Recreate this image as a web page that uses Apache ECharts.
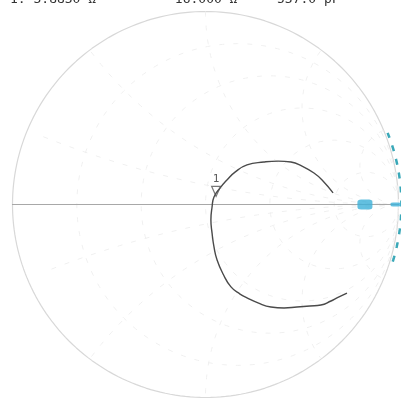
<!DOCTYPE html>
<html><head><meta charset="utf-8">
<script src="https://cdn.jsdelivr.net/npm/echarts@6/dist/echarts.min.js"></script>
<style>html,body{margin:0;padding:0;background:#fff}#c{width:409px;height:405px}</style>
</head><body><div id="c"></div>
<script>
// Reflection coefficient (Gamma) trace: [re, im]
var traceRe = [0.661,0.604,0.562,0.500,0.443,0.376,0.303,0.215,0.153,0.111,0.075,0.044,0.034,0.028,0.034,0.044,0.060,0.091,0.132,0.179,0.215,0.272,0.339,0.407,0.474,0.541,0.598,0.650,0.681,0.733];
var traceIm = [0.060,0.127,0.163,0.199,0.220,0.225,0.220,0.205,0.168,0.127,0.085,0.039,-0.013,-0.080,-0.148,-0.220,-0.288,-0.360,-0.427,-0.464,-0.484,-0.510,-0.531,-0.536,-0.531,-0.526,-0.521,-0.500,-0.484,-0.459];
var markerPoint = [0.055, 0.068];
var markerLabel = '1';
var cyanPoints = [[0.826, 0], [0.985, 0]];
var resistanceTicks = [0.2, 0.5, 1, 2, 5];
var reactanceTicks = [0.2, 0.5, 1, 2, 5];
var headerTexts = ['1: 3.8830 \u03a9', '-16.000 \u03a9', '537.0 pF'];

function circlePts(cx, cy, r, a0, a1, n) {
  var p = [];
  for (var i = 0; i <= n; i++) {
    var a = a0 + (a1 - a0) * i / n;
    p.push([cx + r * Math.cos(a), cy + r * Math.sin(a)]);
  }
  return p;
}
var gridSeries = [];
function gridLine(data, color, width, type) {
  gridSeries.push({type: 'line', data: data, showSymbol: false, symbol: 'none', silent: true, clip: false,
    lineStyle: {color: color, width: width, type: type || 'solid'}, z: 1, animation: false});
}
// outer circle
gridLine(circlePts(0, 0, 1, 0, 2 * Math.PI, 240), '#d8d8d8', 1.2);
// resistance circles
resistanceTicks.forEach(function (r) {
  gridLine(circlePts(r / (1 + r), 0, 1 / (1 + r), 0, 2 * Math.PI, 200), '#f0f0f0', 1, [5, 9]);
});
// reactance arcs (inside unit circle)
reactanceTicks.forEach(function (x) {
  [1, -1].forEach(function (s) {
    var cy = s / x, rr = 1 / x;
    var pts = [];
    for (var i = 0; i <= 300; i++) {
      var a = 2 * Math.PI * i / 300;
      var px = 1 + rr * Math.cos(a), py = cy + rr * Math.sin(a);
      if (px * px + py * py <= 1.0001) pts.push([px, py]); else pts.push('-');
    }
    gridLine(pts, '#f0f0f0', 1, [5, 9]);
  });
});
// horizontal axis
gridLine([[-1.01, 0], [1.06, 0]], '#a8a8a8', 1);

var trace = traceRe.map(function (v, i) { return [v, traceIm[i]]; });

var chart = echarts.init(document.getElementById('c'), null, {renderer: 'canvas'});
chart.setOption({
  animation: false,
  grid: {left: 12.5, top: 11.5, width: 386, height: 386},
  xAxis: {type: 'value', min: -1, max: 1, show: false},
  yAxis: {type: 'value', min: -1, max: 1, show: false},
  graphic: headerTexts.map(function (t, i) {
    return {type: 'text', left: [10, 167, 277][i], top: -7,
      style: {text: t, fill: '#333', font: '13px "DejaVu Sans Mono"'}};
  }),
  series: gridSeries.concat([
    {type: 'line', data: trace, smooth: true, showSymbol: false, symbol: 'none', clip: false,
      lineStyle: {color: '#4a4a4a', width: 1.4}, z: 5},
    {type: 'scatter', data: [markerPoint], symbol: 'triangle', symbolRotate: 180, symbolSize: [9, 10],
      itemStyle: {color: 'rgba(255,255,255,0)', borderColor: '#555', borderWidth: 1.2},
      label: {show: true, formatter: markerLabel, position: 'top', distance: 1, color: '#333', fontSize: 11, fontFamily: 'DejaVu Sans Mono'}, z: 6},
    {type: 'line', data: circlePts(0.015, 0, 1, -0.3, 0.38, 60), showSymbol: false, symbol: 'none', clip: false,
      lineStyle: {color: '#3aa8b8', width: 2.5, type: [6, 8]}, z: 4},
    {type: 'scatter', data: cyanPoints, symbol: 'roundRect', symbolSize: function (v, p) { return p.dataIndex === 0 ? [15, 10] : [10, 4]; },
      itemStyle: {color: '#3cb0d8'}, z: 4}
  ])
});
</script></body></html>
